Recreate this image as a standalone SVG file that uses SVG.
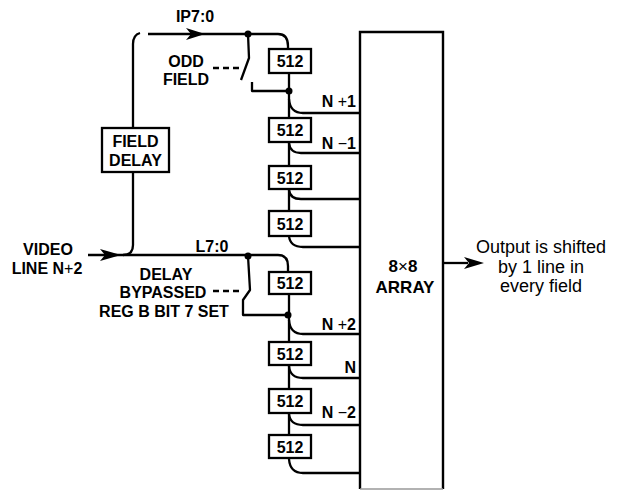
<svg xmlns="http://www.w3.org/2000/svg" width="619" height="490" viewBox="0 0 619 490">
<style>
.ln{fill:none;stroke:#000;stroke-width:2.3;stroke-linejoin:round}
.box{fill:#fff;stroke:#000;stroke-width:2.3}
.dash{fill:none;stroke:#000;stroke-width:2.3;stroke-dasharray:6 4}
.b{font-family:"Liberation Sans",Arial,sans-serif;font-weight:bold;font-size:16px;fill:#000}
.r{font-family:"Liberation Sans",Arial,sans-serif;font-size:18px;fill:#000}
.m{font-weight:normal}
.dot{fill:#000}
.ah{fill:#000}
</style>
<rect width="619" height="490" fill="#fff"/>

<g id="connectors">
  <!-- field delay loop -->
  <path class="ln" d="M133,128 V44 Q133,35 140,33"/>
  <path class="ln" d="M148,34 H278 Q288,34 288,46 V49"/>
  <path class="ln" d="M133,172 V245 Q133,255 123,255"/>
  <polygon class="ah" points="205,34 186,28 191,34 186,40"/>
  <!-- main input -->
  <path class="ln" d="M88,255 H278 Q288,255 288,266 V272"/>
  <polygon class="ah" points="121,255 100,249 105,255 100,261"/>
  <!-- top switch -->
  <path class="ln" d="M248,34 L249,58 L241,80"/>
  <path class="ln" d="M252,82 V91 H289"/>
  <line class="dash" x1="213" y1="68" x2="240" y2="68"/>
  <circle class="dot" cx="248" cy="34" r="3.5"/>
  <circle class="dot" cx="289" cy="91" r="3.5"/>
  <!-- bottom switch -->
  <path class="ln" d="M248,256 L250,290 L243,300 V315 H288"/>
  <line class="dash" x1="213" y1="291" x2="240" y2="291"/>
  <circle class="dot" cx="248" cy="256" r="3.5"/>
  <circle class="dot" cx="288" cy="315" r="3.5"/>
  <!-- top chain -->
  <path class="ln" d="M289,73 V118"/>
  <path class="ln" d="M289,142 V166"/>
  <path class="ln" d="M289,190 V211"/>
  <path class="ln" d="M289,99 Q290,113 303,113 H360"/>
  <path class="ln" d="M289,143 Q290,153 301,153 H360"/>
  <path class="ln" d="M289,190 Q290,199 301,199 H360"/>
  <path class="ln" d="M289,236 Q290,247 303,247 H360"/>
  <!-- bottom chain -->
  <path class="ln" d="M289,294 V342"/>
  <path class="ln" d="M289,365 V389"/>
  <path class="ln" d="M289,413 V435"/>
  <path class="ln" d="M289,320 Q290,334 303,334 H360"/>
  <path class="ln" d="M289,366 Q290,378 303,378 H360"/>
  <path class="ln" d="M289,414 Q290,425 303,425 H360"/>
  <path class="ln" d="M289,459 Q290,473 303,473 H360"/>
  <!-- output -->
  <line class="ln" x1="443" y1="263" x2="468" y2="263"/>
  <polygon class="ah" points="484,263 464,257 469,263 464,269"/>
</g>

<g id="field-delay">
  <rect class="box" x="102" y="128" width="67" height="44"/>
  <text class="b" x="135.5" y="147" text-anchor="middle">FIELD</text>
  <text class="b" x="135.5" y="166" text-anchor="middle">DELAY</text>
</g>

<g id="d1"><rect class="box" x="269" y="49" width="42" height="24"/><text class="b" x="290" y="67" text-anchor="middle">512</text></g>
<g id="d2"><rect class="box" x="269" y="118" width="42" height="24"/><text class="b" x="290" y="136" text-anchor="middle">512</text></g>
<g id="d3"><rect class="box" x="269" y="166" width="42" height="23"/><text class="b" x="290" y="183.5" text-anchor="middle">512</text></g>
<g id="d4"><rect class="box" x="269" y="211" width="42" height="25"/><text class="b" x="290" y="229.5" text-anchor="middle">512</text></g>
<g id="d5"><rect class="box" x="269" y="272" width="42" height="22"/><text class="b" x="290" y="289" text-anchor="middle">512</text></g>
<g id="d6"><rect class="box" x="269" y="342" width="42" height="23"/><text class="b" x="290" y="359.5" text-anchor="middle">512</text></g>
<g id="d7"><rect class="box" x="269" y="389" width="42" height="24"/><text class="b" x="290" y="407" text-anchor="middle">512</text></g>
<g id="d8"><rect class="box" x="269" y="435" width="42" height="23"/><text class="b" x="290" y="452.5" text-anchor="middle">512</text></g>

<g id="array">
  <path d="M360,489 V32 H443 V489" fill="#fff" stroke="#000" stroke-width="2.4"/>
  <line x1="360" y1="489" x2="443" y2="489" stroke="#999" stroke-width="1.5"/>
  <text class="b" x="403" y="272" text-anchor="middle" style="font-size:17px">8<tspan class="m">×</tspan>8</text>
  <text class="b" x="405" y="293" text-anchor="middle" style="font-size:17px">ARRAY</text>
</g>

<g id="labels">
  <text class="b" x="195" y="22" text-anchor="middle">IP7:0</text>
  <text class="b" x="212" y="252" text-anchor="middle">L7:0</text>
  <text class="b" x="186" y="67" text-anchor="middle">ODD</text>
  <text class="b" x="186" y="85" text-anchor="middle">FIELD</text>
  <text class="b" x="166" y="280" text-anchor="middle">DELAY</text>
  <text class="b" x="163" y="298" text-anchor="middle">BYPASSED</text>
  <text class="b" x="164" y="317" text-anchor="middle">REG B BIT 7 SET</text>
  <text class="b" x="48" y="255" text-anchor="middle">VIDEO</text>
  <text class="b" x="47" y="274" text-anchor="middle">LINE N<tspan class="m">+</tspan>2</text>
  <text class="b" x="356" y="107" text-anchor="end">N <tspan class="m">+</tspan>1</text>
  <text class="b" x="356" y="149" text-anchor="end">N <tspan class="m">−</tspan>1</text>
  <text class="b" x="356" y="330" text-anchor="end">N <tspan class="m">+</tspan>2</text>
  <text class="b" x="356" y="373" text-anchor="end">N</text>
  <text class="b" x="356" y="418" text-anchor="end">N <tspan class="m">−</tspan>2</text>
  <text class="r" x="541" y="253" text-anchor="middle">Output is shifted</text>
  <text class="r" x="541" y="273" text-anchor="middle">by 1 line in</text>
  <text class="r" x="541" y="292" text-anchor="middle">every field</text>
</g>
</svg>
